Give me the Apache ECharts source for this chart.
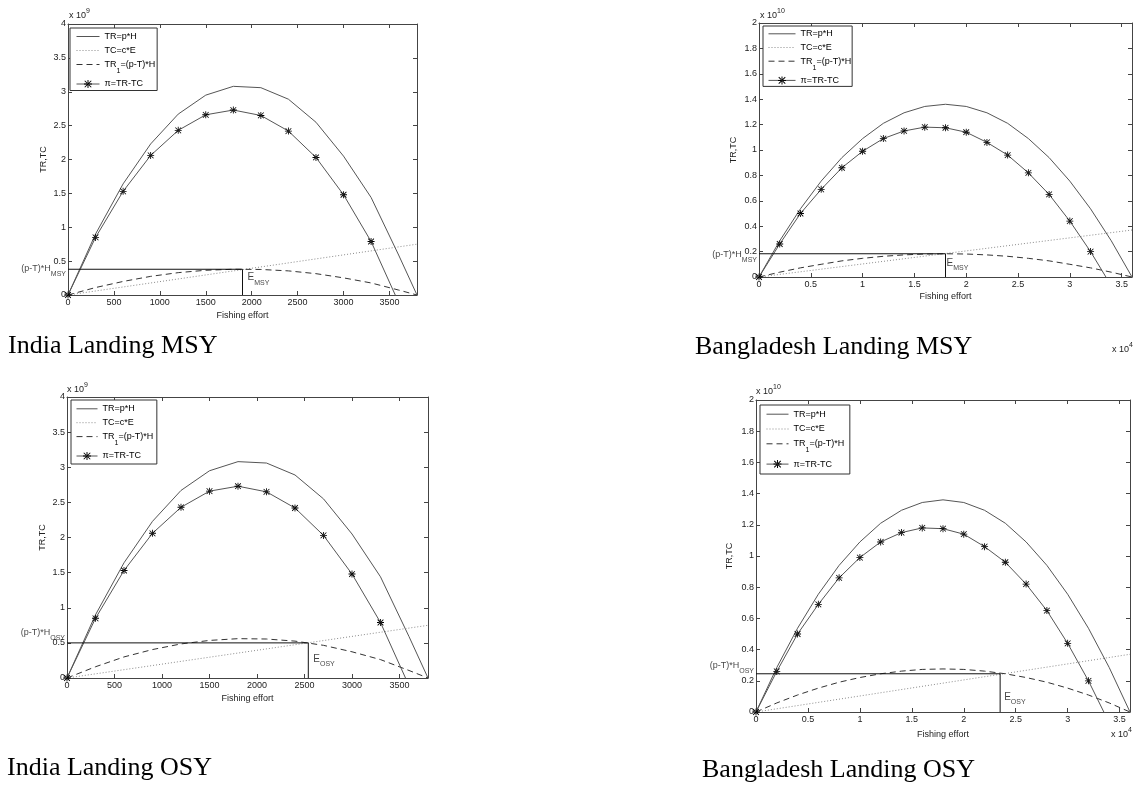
<!DOCTYPE html>
<html><head><meta charset="utf-8">
<script src="https://cdn.jsdelivr.net/npm/echarts@6/dist/echarts.min.js"></script>
<style>html,body{margin:0;padding:0;background:#fff;}#c{width:1136px;height:787px;}</style>
</head><body><div id="c"></div>
<script>
// ---------------- DATA ----------------
// India: effort in boats, money in x10^9
const indiaEffort = [0, 300, 600, 900, 1200, 1500, 1800, 2100, 2400, 2700, 3000, 3300, 3600, 3800];
const indiaTR = [0, 0.90, 1.64, 2.23, 2.67, 2.95, 3.08, 3.06, 2.89, 2.55, 2.05, 1.44, 0.59, 0];
const indiaProfitEffort = [0, 300, 600, 900, 1200, 1500, 1800, 2100, 2400, 2700, 3000, 3300, 3600];
const indiaProfit = [0, 0.85, 1.53, 2.06, 2.43, 2.66, 2.73, 2.65, 2.42, 2.03, 1.48, 0.79, -0.11];
const indiaTCEffort = [0, 3800];
const indiaTC = [0, 0.75];
const indiaTR1MSY = [0, 0.11, 0.20, 0.275, 0.33, 0.365, 0.38, 0.377, 0.356, 0.315, 0.253, 0.178, 0.073, 0];
const indiaTR1OSY = [0, 0.16, 0.30, 0.405, 0.485, 0.535, 0.56, 0.555, 0.525, 0.465, 0.373, 0.262, 0.107, 0];
const indiaMSY = [1900, 0.38];   // [E_MSY, (p-T)*H_MSY]
const indiaOSY = [2540, 0.50];   // [E_OSY, (p-T)*H_OSY]

// Bangladesh: effort in x10^4, money in x10^10
const bdEffort = [0, 0.2, 0.4, 0.6, 0.8, 1.0, 1.2, 1.4, 1.6, 1.8, 2.0, 2.2, 2.4, 2.6, 2.8, 3.0, 3.2, 3.4, 3.6];
const bdTR = [0, 0.285, 0.537, 0.755, 0.94, 1.09, 1.21, 1.293, 1.343, 1.36, 1.343, 1.293, 1.21, 1.09, 0.94, 0.755, 0.537, 0.285, 0];
const bdProfit = [0, 0.26, 0.50, 0.69, 0.86, 0.99, 1.09, 1.15, 1.18, 1.175, 1.14, 1.06, 0.96, 0.82, 0.65, 0.44, 0.20, -0.07, -0.37];
const bdTCEffort = [0, 3.6];
const bdTC = [0, 0.37];
const bdTR1MSY = [0, 0.038, 0.072, 0.10, 0.127, 0.147, 0.163, 0.174, 0.181, 0.183, 0.181, 0.174, 0.163, 0.147, 0.127, 0.10, 0.072, 0.038, 0];
const bdTR1OSY = [0, 0.058, 0.109, 0.153, 0.191, 0.221, 0.245, 0.262, 0.273, 0.276, 0.273, 0.262, 0.245, 0.221, 0.191, 0.153, 0.109, 0.058, 0];
const bdMSY = [1.8, 0.183];
const bdOSY = [2.35, 0.245];

const legendNames = ['TR=p*H', 'TC=c*E', 'TR1=(p-T)*H', 'π=TR-TC'];
const xName = 'Fishing effort';
const yName = 'TR,TC';
const captions = ['India Landing MSY', 'Bangladesh Landing MSY', 'India Landing OSY', 'Bangladesh Landing OSY'];

// ---------------- LAYOUT / STYLE ----------------
const FONT = '"Liberation Sans", Arial, sans-serif';
const SERIF = '"Liberation Serif", "Times New Roman", serif';
const STAR = 'path://M4.4,0H5.6V10H4.4Z M0,4.4H10V5.6H0Z M1.3,0.5L0.5,1.3L8.7,9.5L9.5,8.7Z M8.7,0.5L9.5,1.3L1.3,9.5L0.5,8.7Z';

const panels = [
  { grid: {left: 68, top: 24, width: 349, height: 271}, xMax: 3800, xInt: 500, yMax: 4, yInt: 0.5,
    effort: indiaEffort, tr: indiaTR, tr1: indiaTR1MSY, pEffort: indiaProfitEffort, profit: indiaProfit,
    tcEffort: indiaTCEffort, tc: indiaTC, point: indiaMSY, tag: 'MSY',
    legend: {left: 70, top: 28, padding: [4, 2, 2, 6], itemWidth: 23, itemGap: 5},
    hOff: [-2, -1], eOff: [5, 8], xGap: 16, yGap: 20,
    ymult: {x: 69, y: 16, p: '9'}, xmult: null, cap: {x: 8, y: 346} },
  { grid: {left: 759, top: 23, width: 373, height: 254}, xMax: 3.6, xInt: 0.5, yMax: 2, yInt: 0.2,
    effort: bdEffort, tr: bdTR, tr1: bdTR1MSY, pEffort: bdEffort, profit: bdProfit,
    tcEffort: bdTCEffort, tc: bdTC, point: bdMSY, tag: 'MSY',
    legend: {left: 763, top: 26, padding: [3.3, 1, 1.5, 5], itemWidth: 27, itemGap: 4.7},
    hOff: [-2, 1], eOff: [1, 9], xGap: 15, yGap: 21,
    ymult: {x: 760, y: 15.5, p: '10'}, xmult: {x: 1112, y: 350, p: '4'}, cap: {x: 695, y: 347} },
  { grid: {left: 67, top: 397, width: 361, height: 281}, xMax: 3800, xInt: 500, yMax: 4, yInt: 0.5,
    effort: indiaEffort, tr: indiaTR, tr1: indiaTR1OSY, pEffort: indiaProfitEffort, profit: indiaProfit,
    tcEffort: indiaTCEffort, tc: indiaTC, point: indiaOSY, tag: 'OSY',
    legend: {left: 71, top: 400, padding: [4.3, 3.7, 3.5, 5], itemWidth: 21, itemGap: 4.9},
    hOff: [-2, -10.5], eOff: [5, 16], xGap: 16, yGap: 20,
    ymult: {x: 67, y: 389.7, p: '9'}, xmult: null, cap: {x: 7, y: 768} },
  { grid: {left: 756, top: 400, width: 374, height: 312}, xMax: 3.6, xInt: 0.5, yMax: 2, yInt: 0.2,
    effort: bdEffort, tr: bdTR, tr1: bdTR1OSY, pEffort: bdEffort, profit: bdProfit,
    tcEffort: bdTCEffort, tc: bdTC, point: bdOSY, tag: 'OSY',
    legend: {left: 760, top: 405, padding: [4.7, 5.7, 5.4, 6], itemWidth: 22, itemGap: 5.8},
    hOff: [-2, -8.5], eOff: [4, 23], xGap: 18, yGap: 22,
    ymult: {x: 756, y: 391.5, p: '10'}, xmult: {x: 1111, y: 735, p: '4'}, cap: {x: 702, y: 770} }
];

const AX = '#444';
const subRich = {
  n: {fontSize: 9, lineHeight: 18, verticalAlign: 'middle', color: '#111', fontFamily: FONT},
  e: {fontSize: 10, lineHeight: 18, verticalAlign: 'middle', color: '#111', fontFamily: FONT},
  s: {fontSize: 7, lineHeight: 8, verticalAlign: 'bottom', color: '#111', fontFamily: FONT}
};
const zip = (xs, ys) => xs.map((x, k) => [x, ys[k]]);
const plainNum = v => String(+v.toFixed(6));
const NOSYM = {color: 'rgba(0,0,0,0)', opacity: 0};

const grids = [], xAxes = [], yAxes = [], series = [], legends = [], graphics = [];
panels.forEach((p, i) => {
  grids.push(Object.assign({containLabel: false}, p.grid));
  const common = {
    type: 'value', gridIndex: i,
    axisLine: {show: true, onZero: false, lineStyle: {color: AX, width: 1}},
    axisTick: {show: true, inside: true, length: 4, lineStyle: {color: AX, width: 1}},
    splitLine: {show: false}
  };
  xAxes.push(Object.assign({}, common, {
    position: 'bottom', min: 0, max: p.xMax, interval: p.xInt,
    name: xName, nameLocation: 'middle', nameGap: p.xGap,
    nameTextStyle: {fontSize: 9, color: '#222', fontFamily: FONT},
    axisLabel: {fontSize: 9, color: '#222', margin: 3, fontFamily: FONT, showMaxLabel: false, formatter: plainNum}
  }));
  xAxes.push(Object.assign({}, common, {
    position: 'top', min: 0, max: p.xMax, interval: p.xInt, axisLabel: {show: false}
  }));
  yAxes.push(Object.assign({}, common, {
    position: 'left', min: 0, max: p.yMax, interval: p.yInt,
    name: yName, nameLocation: 'middle', nameGap: p.yGap, nameRotate: 90,
    nameTextStyle: {fontSize: 9, color: '#222', fontFamily: FONT},
    axisLabel: {fontSize: 9, color: '#222', margin: 2, fontFamily: FONT, formatter: plainNum}
  }));
  yAxes.push(Object.assign({}, common, {
    position: 'right', min: 0, max: p.yMax, interval: p.yInt, axisLabel: {show: false}
  }));
  const ax = {xAxisIndex: 2 * i, yAxisIndex: 2 * i};
  series.push(Object.assign({name: legendNames[0], type: 'line', data: zip(p.effort, p.tr), symbol: 'none',
    itemStyle: NOSYM, lineStyle: {color: '#555', width: 1}, z: 3}, ax));
  series.push(Object.assign({name: legendNames[1], type: 'line', data: zip(p.tcEffort, p.tc), symbol: 'none',
    itemStyle: NOSYM, lineStyle: {color: '#8a8a8a', width: 1, type: [1, 2]}, z: 3}, ax));
  series.push(Object.assign({name: legendNames[2], type: 'line', data: zip(p.effort, p.tr1), symbol: 'none',
    itemStyle: NOSYM, lineStyle: {color: '#333', width: 1, type: [6, 4]}, z: 3}, ax));
  series.push(Object.assign({name: legendNames[3], type: 'line', data: zip(p.pEffort, p.profit),
    symbol: STAR, symbolSize: 7, showAllSymbol: true, itemStyle: {color: '#000'},
    lineStyle: {color: '#555', width: 1}, z: 4}, ax));
  const E = p.point[0], L = p.point[1];
  series.push(Object.assign({type: 'line', data: [[0, L], [E, L], [E, 0]], symbol: 'none', silent: true,
    lineStyle: {color: '#111', width: 1}, z: 5}, ax));
  series.push(Object.assign({type: 'scatter', data: [[0, L]], symbolSize: 0, clip: false, silent: true,
    label: {show: true, position: 'left', distance: 0, offset: p.hOff,
      formatter: '{n|(p-T)*H}{s|' + p.tag + '}', rich: subRich}}, ax));
  series.push(Object.assign({type: 'scatter', data: [[E, L]], symbolSize: 0, clip: false, silent: true,
    label: {show: true, position: 'right', distance: 0, offset: p.eOff,
      formatter: '{e|E}{s|' + p.tag + '}', rich: subRich}}, ax));

  legends.push({
    orient: 'vertical', left: p.legend.left, top: p.legend.top, padding: p.legend.padding,
    itemWidth: p.legend.itemWidth, itemHeight: 10, itemGap: p.legend.itemGap,
    borderColor: '#333', borderWidth: 1, borderRadius: 0, backgroundColor: '#fff',
    selectedMode: false, data: legendNames, z: 10,
    lineStyle: {width: 1},
    formatter: name => name === legendNames[2] ? '{a|TR}{s|1}{a|=(p-T)*H}' : '{b|' + name + '}',
    textStyle: {fontSize: 9, color: '#000', fontFamily: FONT, rich: {
      a: {fontSize: 9, lineHeight: 20, verticalAlign: 'middle', color: '#000', fontFamily: FONT},
      s: {fontSize: 7, lineHeight: 9, verticalAlign: 'bottom', color: '#000', fontFamily: FONT},
      b: {fontSize: 9, lineHeight: 10, color: '#000', fontFamily: FONT}
    }}
  });

  const supRich = {
    n: {fontSize: 9, lineHeight: 16, verticalAlign: 'middle', fill: '#222', fontFamily: FONT},
    p: {fontSize: 7, lineHeight: 8, verticalAlign: 'top', fill: '#222', fontFamily: FONT}
  };
  graphics.push({type: 'text', x: p.ymult.x, y: p.ymult.y, silent: true,
    style: {text: '{n|x 10}{p|' + p.ymult.p + '}', rich: supRich, fill: '#222', verticalAlign: 'middle', align: 'left'}});
  if (p.xmult) {
    graphics.push({type: 'text', x: p.xmult.x, y: p.xmult.y, silent: true,
      style: {text: '{n|x 10}{p|' + p.xmult.p + '}', rich: supRich, fill: '#222', verticalAlign: 'middle', align: 'left'}});
  }
  graphics.push({type: 'text', x: p.cap.x, y: p.cap.y, silent: true,
    style: {text: captions[i], font: '26px ' + SERIF, fill: '#000', verticalAlign: 'middle', align: 'left'}});
});

const chart = echarts.init(document.getElementById('c'), null, {renderer: 'canvas'});
chart.setOption({
  animation: false,
  backgroundColor: '#fff',
  grid: grids, xAxis: xAxes, yAxis: yAxes, series: series, legend: legends, graphic: graphics
});
</script></body></html>
